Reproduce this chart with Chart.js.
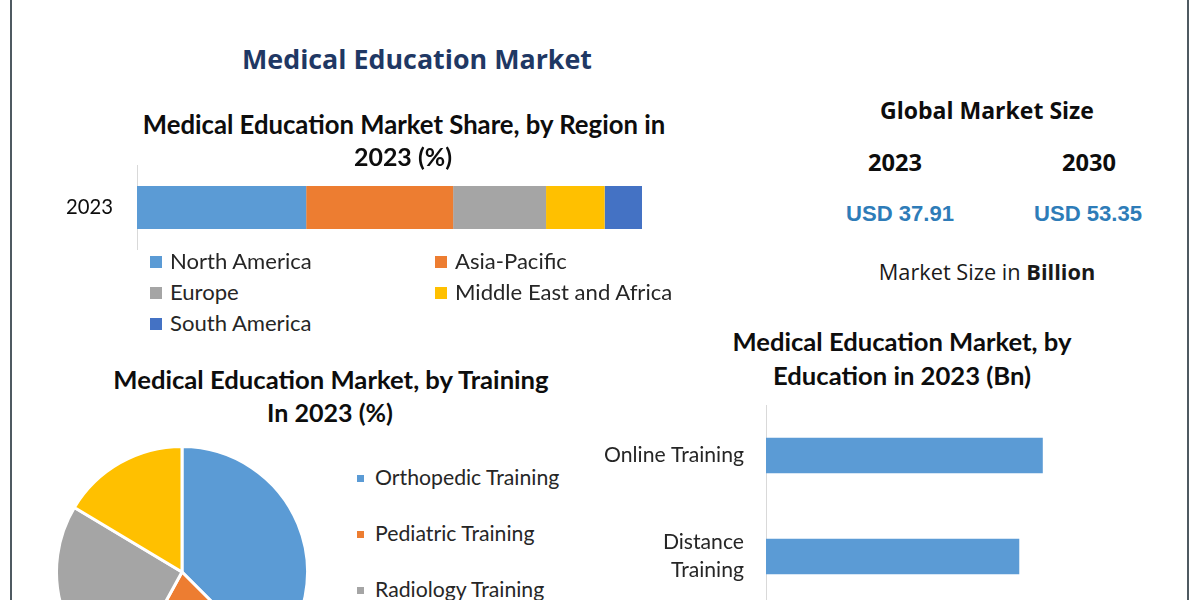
<!DOCTYPE html>
<html>
<head>
<meta charset="utf-8">
<script src="https://cdn.jsdelivr.net/npm/chart.js@4.4.1/dist/chart.umd.min.js"></script>
<style>
body{margin:0;width:1200px;height:600px;overflow:hidden;background:#fff;position:relative;font-family:Lato,sans-serif;}
.t{position:absolute;white-space:nowrap;line-height:1;transform:translate(-50%,-50%);}
.l{position:absolute;white-space:nowrap;line-height:1;transform:translateY(-50%);}
.sq{position:absolute;}
.frame{position:absolute;top:0;height:600px;width:2px;background:#4f5a61;}
canvas{position:absolute;}
</style>
</head>
<body>
<div class="frame" style="left:10px"></div>
<div class="frame" style="left:1187px"></div>
<canvas id="regionChart" width="582" height="85" style="left:60px;top:165px"></canvas>
<canvas id="trainingChart" width="254" height="254" style="left:55px;top:445px"></canvas>
<canvas id="educationChart" width="584" height="303" style="left:580px;top:405px"></canvas>
<script>
// data
const regionYear = ['2023'];
const regions = ['North America', 'Asia-Pacific', 'Europe', 'Middle East and Africa', 'South America'];
const regionShare = [33.5, 29.1, 18.4, 11.6, 7.4];
const trainings = ['Orthopedic Training', 'Pediatric Training', 'Radiology Training', 'Others'];
const trainingShare = [37.5, 20.5, 25.6, 16.4];
const educations = ['Online Training', ['Distance', 'Training'], 'Classroom Training'];
const educationValue = [15.3, 14.0, 8.6];
const marketYears = ['2023', '2030'];
const marketSize = ['USD 37.91', 'USD 53.35'];
const palette = ['#5b9bd5', '#ed7d31', '#a5a5a5', '#ffc000', '#4472c4'];

// font size that makes a text as wide as in the picture
const mctx = document.createElement('canvas').getContext('2d');
function fit(text, weight, family, w){
  mctx.font = weight + ' 100px ' + family;
  return 100 * w / mctx.measureText(text).width;
}
function put(html, x, y, size, weight, family, color, left){
  const d = document.createElement('div');
  d.className = left ? 'l' : 't';
  d.innerHTML = html;
  d.style.left = x + 'px'; d.style.top = y + 'px';
  d.style.font = weight + ' ' + size.toFixed(2) + 'px ' + family;
  d.style.color = color;
  document.body.appendChild(d);
}
function title(text, x, y, w, weight, family, color){
  put(text, x, y, fit(text, weight, family, w), weight, family, color);
}

// titles
title('Medical Education Market', 417, 58, 350, 700, '"Open Sans"', '#1f3864');
title('Medical Education Market Share, by Region in', 404, 124, 523, 700, 'Lato', '#0d0d0d');
title('2023 (%)', 403, 156, 98, 700, 'Lato', '#0d0d0d');
title('Medical Education Market, by Training', 331, 379, 437, 700, 'Lato', '#0d0d0d');
title('In 2023 (%)', 330, 412, 126, 700, 'Lato', '#0d0d0d');
title('Medical Education Market, by', 902, 341, 339, 700, 'Lato', '#0d0d0d');
title('Education in 2023 (Bn)', 902, 375, 258, 700, 'Lato', '#0d0d0d');

// global market size block
title('Global Market Size', 987, 110, 214, 700, '"Open Sans"', '#0d0d0d');
const yrSize = fit(marketYears[0], 700, '"Open Sans"', 54);
const usdSize = fit(marketSize[0], 700, '"Liberation Sans"', 108);
[895, 1089].forEach((x, i) => {
  put(marketYears[i], x, 162, yrSize, 700, '"Open Sans"', '#0d0d0d');
  put(marketSize[i], x - (i ? 1 : -5), 214, usdSize, 700, '"Liberation Sans"', '#2e7cb8');
});
const msText = 'Market Size in Billion';
put('Market Size in <b>Billion</b>', 987, 271, fit(msText, 400, '"Open Sans"', 210), 400, '"Open Sans"', '#1a1a1a');

// region legend (two columns)
const regLegSize = fit('Middle East and Africa', 400, 'Lato', 218);
regions.forEach((r, i) => {
  const col = i % 2, row = Math.floor(i / 2);
  const y = 261 + row * 31;
  const sx = col ? 435 : 150;
  const s = document.createElement('div');
  s.className = 'sq';
  s.style.cssText = `left:${sx}px;top:${y - 5}px;width:12px;height:12px;background:${palette[i]}`;
  document.body.appendChild(s);
  put(r, sx + 20, y - 1, regLegSize, 400, 'Lato', '#262626', true);
});

// training legend
const trLegSize = fit('Orthopedic Training', 400, 'Lato', 185);
trainings.forEach((t, i) => {
  const y = 478 + i * 56;
  const s = document.createElement('div');
  s.className = 'sq';
  s.style.cssText = `left:357px;top:${y - 3}px;width:7px;height:7px;background:${palette[i]}`;
  document.body.appendChild(s);
  put(t, 375, y - 1, trLegSize, 400, 'Lato', '#262626', true);
});

const noPlug = {legend: {display: false}, tooltip: {enabled: false}};

// stacked share bar
new Chart(document.getElementById('regionChart'), {
  type: 'bar',
  data: {
    labels: regionYear,
    datasets: regions.map((r, i) => ({
      label: r, data: [regionShare[i]], backgroundColor: palette[i],
      barPercentage: 0.506, categoryPercentage: 1
    }))
  },
  options: {
    indexAxis: 'y', responsive: false, animation: false,
    plugins: noPlug, layout: {padding: 0},
    scales: {
      x: {stacked: true, min: 0, max: 100, display: false},
      y: {
        stacked: true,
        grid: {color: 'transparent', drawTicks: false},
        border: {color: '#d9d9d9', width: 1},
        ticks: {font: {family: 'Lato', size: fit('2023', 400, 'Lato', 47)}, color: '#0d0d0d', padding: 24},
        afterFit: s => { s.width = 77; s.paddingTop = 0; s.paddingBottom = 0; }
      }
    }
  }
});

// training pie
new Chart(document.getElementById('trainingChart'), {
  type: 'pie',
  data: {
    labels: trainings,
    datasets: [{data: trainingShare, backgroundColor: palette.slice(0, 4), borderColor: '#fff', borderWidth: 3}]
  },
  options: {responsive: false, animation: false, plugins: noPlug, layout: {padding: 0}}
});

// education bars
new Chart(document.getElementById('educationChart'), {
  type: 'bar',
  data: {
    labels: educations,
    datasets: [{data: educationValue, backgroundColor: '#5b9bd5', barPercentage: 0.35, categoryPercentage: 1}]
  },
  options: {
    indexAxis: 'y', responsive: false, animation: false,
    plugins: noPlug, layout: {padding: 0},
    scales: {
      x: {min: 0, max: 22, display: false},
      y: {
        grid: {color: 'transparent', drawTicks: false},
        border: {color: '#d9d9d9', width: 1},
        ticks: {font: {family: 'Lato', size: fit('Online Training', 400, 'Lato', 140), lineHeight: '28px'}, color: '#262626', padding: 22},
        afterFit: s => { s.width = 186; s.paddingTop = 0; s.paddingBottom = 0; }
      }
    }
  }
});
</script>
</body>
</html>
